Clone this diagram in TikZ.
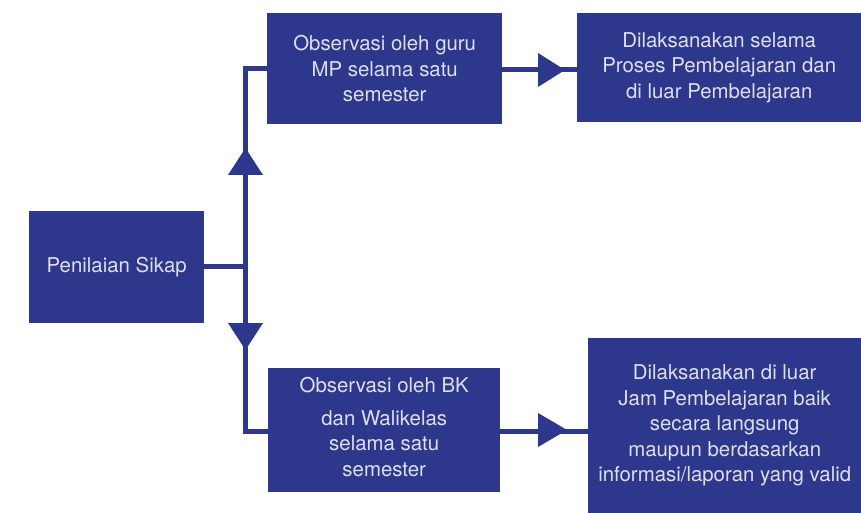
\documentclass[tikz,border=0pt]{standalone}
\usepackage{fontspec}
\setmainfont{TeX Gyre Heros}
\definecolor{boxblue}{RGB}{45,56,140}
\definecolor{boxtext}{RGB}{222,222,238}
\begin{document}
\begin{tikzpicture}[x=1pt,y=-1pt,
  infobox/.style={fill=boxblue,draw=none,anchor=north west,inner sep=0pt,
    text=boxtext,align=center,font=\fontsize{20.4}{25.5}\selectfont},
  conn/.style={draw=boxblue,line width=5pt,line join=miter},
  head/.style={fill=boxblue,draw=none}]
\useasboundingbox (0,0) rectangle (861,513);

% boxes
\node[infobox,minimum width=175pt,minimum height=112pt] (pen) at (29,211) {Penilaian Sikap};
\node[infobox,minimum width=235pt,minimum height=111pt] (obsmp) at (267,13)
  {Observasi oleh guru\\MP selama satu\\semester};
\node[infobox,minimum width=284pt,minimum height=109pt] (dlk1) at (577,13)
  {Dilaksanakan selama\\Proses Pembelajaran dan\\di luar Pembelajaran};
\node[infobox,minimum width=232pt,minimum height=118pt] (obsbk) at (268,368)
  {Observasi oleh BK\\[7pt]dan Walikelas\\selama satu\\semester};
\fill[boxblue] (obsbk.south west) rectangle ++(232,6);
\node[infobox,minimum width=273pt,minimum height=175pt] (dlk2) at (588,338)
  {Dilaksanakan di luar\\Jam Pembelajaran baik\\secara langsung\\maupun berdasarkan\\informasi/laporan yang valid};

% trunk of the branching connector
\coordinate (ttop) at (245.5,68.5);
\coordinate (tbot) at (245.5,431);
\coordinate (tmid) at (245.5,266);

\draw[conn] (obsmp.west |- ttop) -- (ttop) -- (tbot) -- (obsbk.west |- tbot);
\draw[conn] (pen.east |- tmid) -- (tmid);
\draw[conn] (obsmp.east |- 0,70) -- (dlk1.west |- 0,70);
\draw[conn] (obsbk.east |- 0,431) -- (dlk2.west |- 0,431);

% arrowheads
\coordinate (upa) at (245.5,148);
\coordinate (dna) at (245.5,350);
\coordinate (rta) at (565,70);
\coordinate (rtb) at (567,430);
\fill[head] (upa) -- ++(-17.5,27) -- ++(35,0) -- cycle;
\fill[head] (dna) -- ++(-17.5,-27) -- ++(35,0) -- cycle;
\fill[head] (rta) -- ++(-27,-17) -- ++(0,34) -- cycle;
\fill[head] (rtb) -- ++(-29,-17) -- ++(0,34) -- cycle;
\end{tikzpicture}
\end{document}
